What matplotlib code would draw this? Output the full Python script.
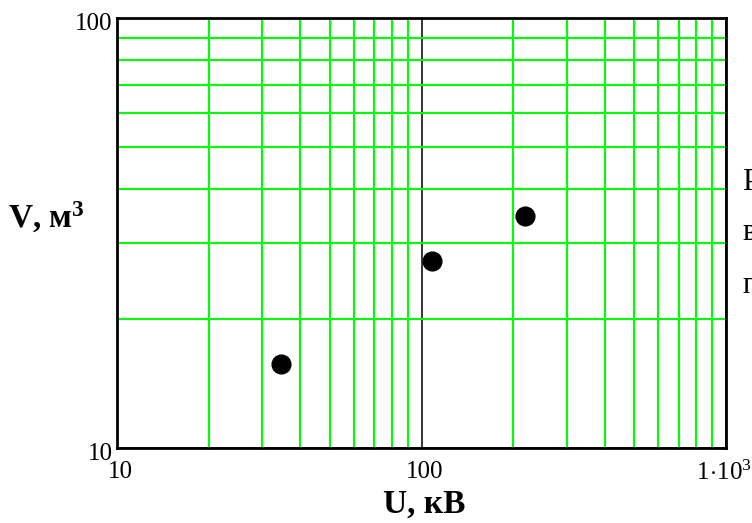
import matplotlib
matplotlib.use("Agg")
from matplotlib import pyplot as plt
from matplotlib.transforms import ScaledTranslation

# data
u_kv = [34.6, 108.0, 219.0]
v_m3 = [15.7, 27.2, 34.6]

x_major = [10, 100, 1000]
x_major_labels = ['10', '100', r'$1\!\cdot\!10^{3}$']
x_minor = [20, 30, 40, 50, 60, 70, 80, 90, 200, 300, 400, 500, 600, 700, 800, 900]
y_major = [10, 100]
y_major_labels = ['10', '100']
y_minor = [20, 30, 40, 50, 60, 70, 80, 90]

plt.rcParams['font.family'] = ['Liberation Serif', 'DejaVu Serif']
plt.rcParams['mathtext.fontset'] = 'custom'
plt.rcParams['mathtext.rm'] = 'Liberation Serif'
plt.rcParams['mathtext.it'] = 'Liberation Serif:italic'
plt.rcParams['mathtext.bf'] = 'Liberation Serif:bold'

W, H = 752, 523
fig = plt.figure(figsize=(W / 100, H / 100), dpi=100)
ax = fig.add_axes([117 / W, 1 - 448 / H, 609 / W, 430 / H])

ax.set_xscale('log')
ax.set_yscale('log')
ax.set_xlim(10, 1000)
ax.set_ylim(10, 100)

ax.set_xticks(x_major)
ax.set_xticklabels(x_major_labels)
ax.set_xticks(x_minor, minor=True)
ax.set_yticks(y_major)
ax.set_yticklabels(y_major_labels)
ax.set_yticks(y_minor, minor=True)
ax.xaxis.set_minor_formatter(plt.NullFormatter())
ax.yaxis.set_minor_formatter(plt.NullFormatter())

ax.grid(which='minor', color='#00ff00', linewidth=1.5)
ax.grid(which='major', color='black', linewidth=1.1)
ax.set_axisbelow(True)

ax.tick_params(which='both', length=0)
ax.tick_params(axis='x', labelsize=18, pad=9)
ax.tick_params(axis='y', labelsize=18, pad=3)

# small nudges so the tick labels sit like in the picture
xlabels = ax.get_xticklabels()
for lbl, shift in zip(xlabels, [3, 3, -2]):
    lbl.set_transform(lbl.get_transform() + ScaledTranslation(shift / 100, 0, fig.dpi_scale_trans))
dy = ScaledTranslation(0, -4 / 100, fig.dpi_scale_trans)
for lbl in ax.get_yticklabels():
    lbl.set_transform(lbl.get_transform() + dy)

for sp in ax.spines.values():
    sp.set_linewidth(2)
    sp.set_color('black')
    sp.set_zorder(5)

ax.plot(u_kv, v_m3, 'o', color='black', markersize=13.5, zorder=6, clip_on=False)

fig.text(424 / W, 1 - 513 / H, 'U, кВ', fontsize=24, fontweight='bold',
         ha='center', va='baseline')
fig.text(8 / W, 1 - 228 / H, r'V, м$\mathbf{^{3}}$', fontsize=24, fontweight='bold',
         ha='left', va='baseline')

# cut-off text from the page on the right
fig.text(742 / W, 1 - 190 / H, 'Р', fontsize=22, ha='left', va='baseline')
fig.text(742 / W, 1 - 240 / H, 'в', fontsize=22, ha='left', va='baseline')
fig.text(742 / W, 1 - 293 / H, 'п', fontsize=22, ha='left', va='baseline')

fig.savefig('out.png', dpi=100)
